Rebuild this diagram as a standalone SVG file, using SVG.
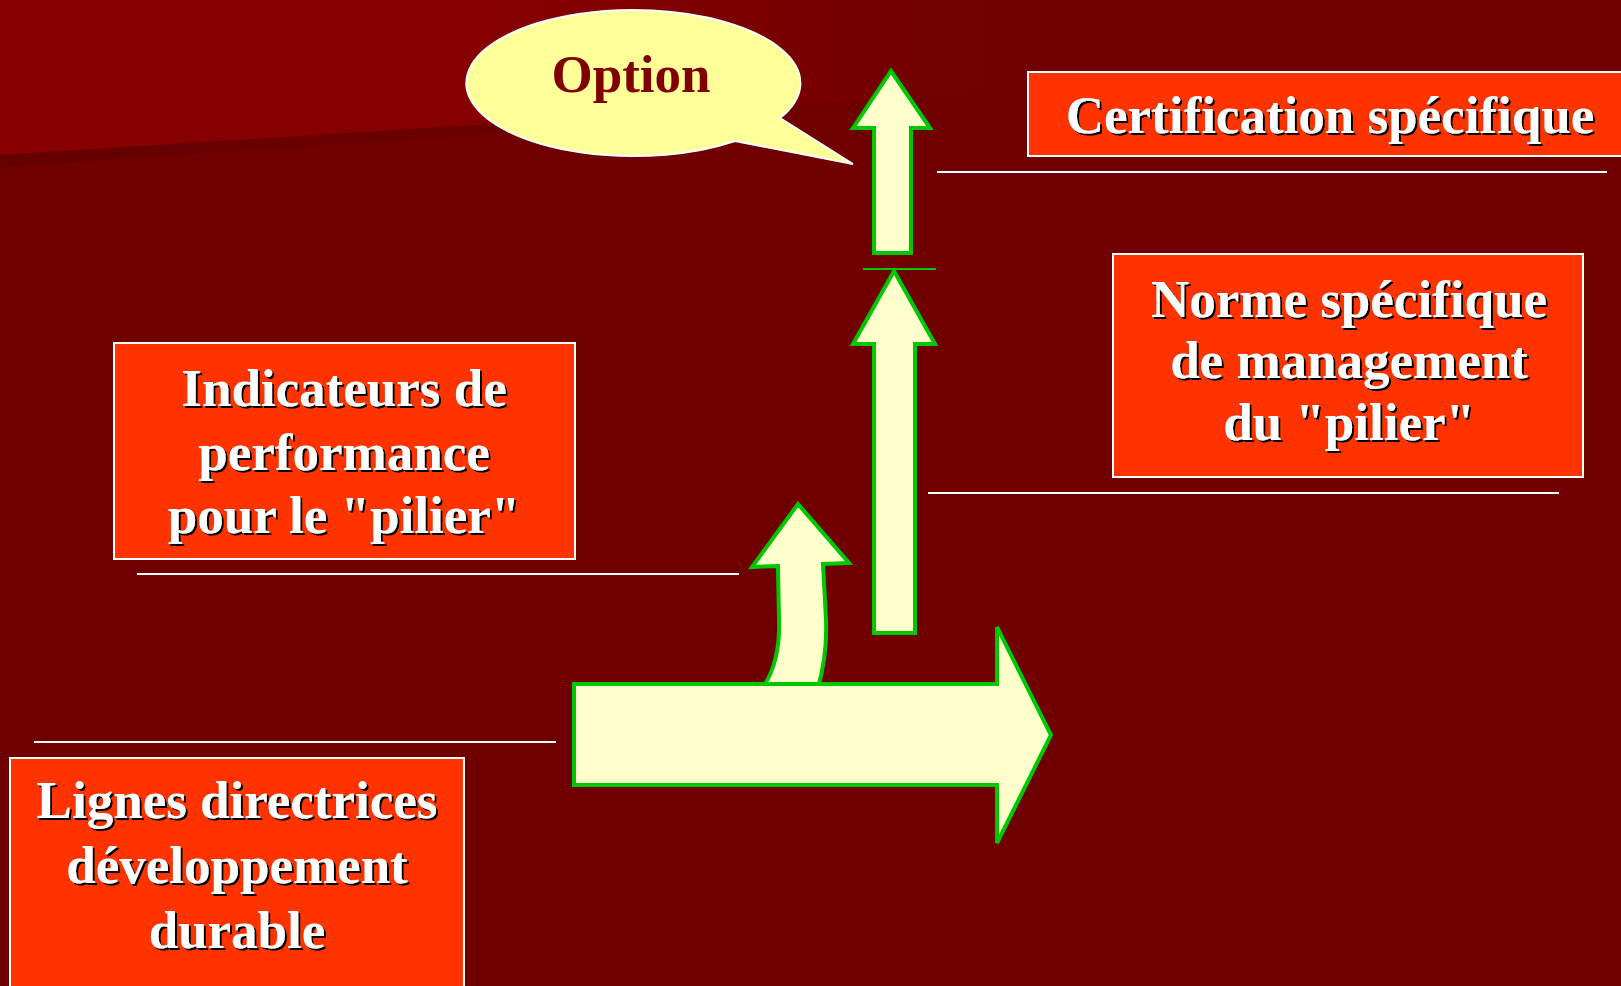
<svg xmlns="http://www.w3.org/2000/svg" width="1621" height="986" viewBox="0 0 1621 986">
<defs>
<linearGradient id="topGlow" x1="0" y1="0" x2="1000" y2="0" gradientUnits="userSpaceOnUse">
<stop offset="0" stop-color="#880000"/>
<stop offset="0.5" stop-color="#860000"/>
<stop offset="1" stop-color="#700000"/>
</linearGradient>
<linearGradient id="band" x1="0" y1="0" x2="1000" y2="0" gradientUnits="userSpaceOnUse">
<stop offset="0" stop-color="#640000" stop-opacity="0.9"/>
<stop offset="1" stop-color="#640000" stop-opacity="0"/>
</linearGradient>
<filter id="shadow" x="-5%" y="-20%" width="110%" height="140%">
<feDropShadow dx="2" dy="2" stdDeviation="0" flood-color="#000000" flood-opacity="1"/>
</filter>
<style>
.box{fill:#FF3300;stroke:#FFFFFF;stroke-width:2}
.lbl{font-family:"Liberation Serif","Times New Roman",serif;font-weight:bold;font-size:53px;fill:#FFFFFF;text-anchor:middle;filter:url(#shadow)}
.rule{stroke:#FFFFFF;stroke-width:2;fill:none}
.arrow{fill:#FFFFCC;stroke:#00C800;stroke-width:4;stroke-linejoin:miter}
</style>
</defs>
<rect x="0" y="0" width="1621" height="986" fill="#700000"/>
<polygon points="0,0 1000,0 1000,92 0,155" fill="url(#topGlow)"/>
<polygon points="0,155 1000,92 1000,100 0,167" fill="url(#band)"/>

<g id="callout">
<path d="M 735,141 L 853,164 L 780,118 A 167 73 0 1 0 735,141 Z" fill="#FFFF99" stroke="#FFFFFF" stroke-width="2"/>
<text x="631" y="92" font-family="Liberation Serif, Times New Roman, serif" font-weight="bold" font-size="53" fill="#800000" text-anchor="middle">Option</text>
</g>

<g id="certification">
<rect class="box" x="1028" y="72" width="620" height="84"/>
<text class="lbl" x="1330" y="133">Certification spécifique</text>
</g>

<g id="norme">
<rect class="box" x="1113" y="254" width="470" height="223"/>
<text class="lbl" x="1349" y="317">Norme spécifique</text>
<text class="lbl" x="1349" y="378">de management</text>
<text class="lbl" x="1349" y="440">du "pilier"</text>
</g>

<g id="indicateurs">
<rect class="box" x="114" y="343" width="461" height="216"/>
<text class="lbl" x="344" y="406">Indicateurs de</text>
<text class="lbl" x="344" y="470">performance</text>
<text class="lbl" x="344" y="533">pour le "pilier"</text>
</g>

<g id="lignes">
<rect class="box" x="10" y="758" width="454" height="240"/>
<text class="lbl" x="237" y="818">Lignes directrices</text>
<text class="lbl" x="237" y="883">développement</text>
<text class="lbl" x="237" y="948">durable</text>
</g>

<g id="connectors">
<line class="rule" x1="937" y1="172" x2="1607" y2="172"/>
<line class="rule" x1="928" y1="493" x2="1559" y2="493"/>
<line class="rule" x1="137" y1="574" x2="739" y2="574"/>
<line class="rule" x1="34" y1="742" x2="556" y2="742"/>
<polygon class="arrow" points="891,71 930,128 911,128 911,253 874,253 874,128 853,128"/>
<line x1="863" y1="269" x2="936" y2="269" stroke="#00C800" stroke-width="2"/>
<polygon class="arrow" points="894,271 935,344 915,344 915,633 874,633 874,344 853,344"/>
<path class="arrow" d="M 762,688 C 775,672 780,645 779,620 L 778,566 L 752,567 L 798,504 L 849,563 L 823,564 L 826,620 C 827,645 823,670 818,688 Z"/>
<polygon class="arrow" points="574,684 997,684 997,627 1051,735 997,843 997,785 574,785"/>
</g>
</svg>
